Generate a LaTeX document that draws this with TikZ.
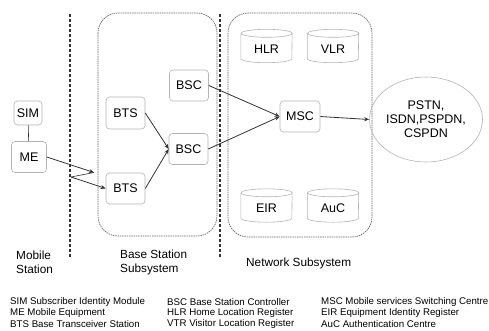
\documentclass[tikz,border=0pt]{standalone}
\usepackage{fontspec}
\setmainfont{Liberation Sans}
\usetikzlibrary{shapes.geometric,arrows.meta}
\definecolor{boxgray}{HTML}{B4B4B4}
\definecolor{linegray}{HTML}{333333}
\definecolor{regiongray}{HTML}{6A6A6A}
\tikzset{
  unitbox/.style={draw=boxgray, line width=0.6pt, rounded corners=3.5pt, inner sep=0pt,
    minimum width=39pt, minimum height=31pt, font=\fontsize{12.5}{14}\selectfont},
  conn/.style={draw=linegray, line width=0.8pt, -{Stealth[length=5pt,width=4pt]}},
  plainconn/.style={draw=linegray, line width=0.6pt},
  sepline/.style={draw=linegray, line width=1.4pt, dash pattern=on 3pt off 2pt},
  region/.style={draw=regiongray, line width=0.7pt, dash pattern=on 1.5pt off 0.8pt, rounded corners=20pt},
  caption/.style={anchor=west, inner sep=0pt, font=\fontsize{11.8}{14}\selectfont, align=left},
  legend/.style={anchor=west, inner sep=0pt, font=\fontsize{9.7}{11}\selectfont},
  db/.style={inner sep=0pt, minimum width=51pt, minimum height=33pt},
  dbline/.style={draw=boxgray, line width=0.6pt},
  dblabel/.style={font=\fontsize{12.5}{14}\selectfont}
}
\newcommand{\dbnode}[4]{%
  \node[db, label={[dblabel,yshift=-3pt]center:#4}] (#1) at (#2,#3) {};
  \draw[dbline] ([yshift=-4pt]#1.north west) -- ([yshift=4pt]#1.south west)
    arc[start angle=180,end angle=360,x radius=25.5pt,y radius=4pt]
    -- ([yshift=-4pt]#1.north east)
    arc[start angle=0,end angle=360,x radius=25.5pt,y radius=4pt];
}
\begin{document}
\begin{tikzpicture}[x=1pt,y=-1pt]
\useasboundingbox[fill=white] (0,0) rectangle (489,330);

% regions
\draw[region] (98,13) rectangle (217,236);
\draw[region] (228,13) rectangle (372,237);

% separators
\draw[sepline] (70,14) -- (70,258);
\draw[sepline] (220,14) -- (220,258);

% mobile station
\node[unitbox, minimum width=28pt, minimum height=24pt] (sim) at (28,113) {SIM};
\node[unitbox, minimum width=35pt, minimum height=31pt] (me) at (29,157) {ME};
\draw[plainconn] (sim) -- (me);

% base station subsystem
\node[unitbox, minimum height=32pt] (bts1) at (125.5,113) {BTS};
\node[unitbox] (bts2) at (125.5,188.5) {BTS};
\node[unitbox] (bsc1) at (189,85.5) {BSC};
\node[unitbox] (bsc2) at (188.5,149) {BSC};

% network subsystem
\node[unitbox, minimum width=40pt] (msc) at (300,116.5) {MSC};
\dbnode{hlr}{266.5}{46}{HLR}
\dbnode{vlr}{333}{46}{VLR}
\dbnode{eir}{266.5}{205.5}{EIR}
\dbnode{auc}{333}{205.5}{AuC}

% external networks
\node[ellipse, draw=boxgray, line width=0.6pt, minimum width=88pt, minimum height=85pt,
      inner sep=0pt, align=center, font=\fontsize{12.5}{14}\selectfont] (pstn) at (426,119.5)
      {PSTN,\\ISDN,PSPDN,\\CSPDN};

% radio link
\coordinate (z1) at (94,172.5);
\coordinate (z2) at (71,177);
\draw[conn] (me.east) -- (z1);
\draw[plainconn] (z1) -- (z2);
\draw[conn] (z2) -- (bts2.west);

% connectors
\draw[conn] (bts1.east) -- (bsc2.west);
\draw[conn] (bts2.east) -- (bsc2.west);
\draw[conn] (bsc1.east) -- (msc.west);
\draw[conn] (bsc2.east) -- (msc.west);
\draw[conn] (msc.east) -- (pstn.west);

% captions
\node[caption] (capms) at (16,262) {Mobile\\Station};
\node[caption] (capbss) at (120,262) {Base Station\\Subsystem};
\node[caption] (capnss) at (246,263) {Network Subsystem};

% legend
\node[legend] (l1) at (10,302) {SIM Subscriber Identity Module};
\node[legend] (l2) at (10,313) {ME Mobile Equipment};
\node[legend] (l3) at (10,324) {BTS Base Transceiver Station};
\node[legend] (l4) at (167,302) {BSC Base Station Controller};
\node[legend] (l5) at (167,313) {HLR Home Location Register};
\node[legend] (l6) at (167,324) {VTR Visitor Location Register};
\node[legend] (l7) at (321,302) {MSC Mobile services Switching Centre};
\node[legend] (l8) at (321,313) {EIR Equipment Identity Register};
\node[legend] (l9) at (321,324) {AuC Authentication Centre};
\end{tikzpicture}
\end{document}
